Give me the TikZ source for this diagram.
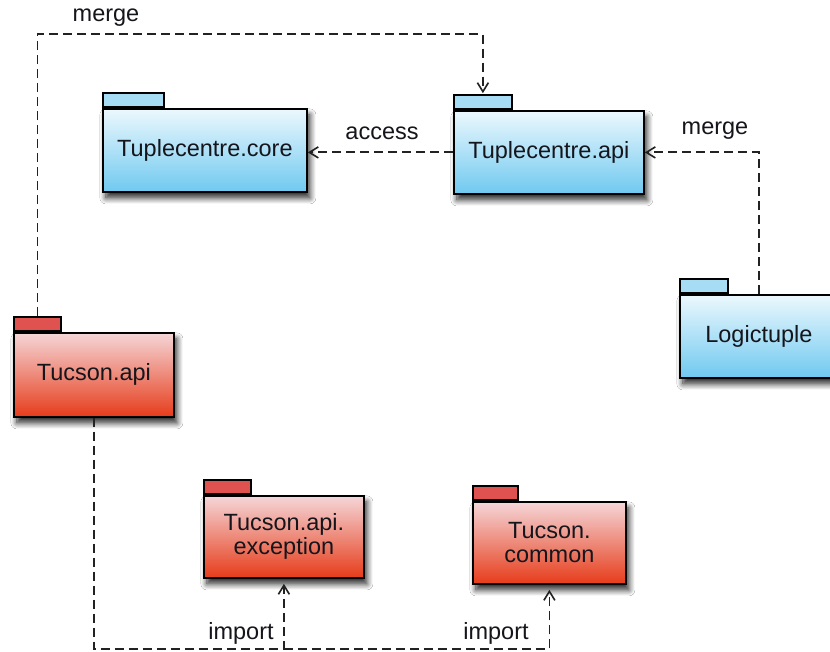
\documentclass[tikz,border=0pt]{standalone}
\usepackage{fontspec}
\setmainfont{Liberation Sans}
\usetikzlibrary{arrows.meta,shadows.blur,calc}

\definecolor{bluetop}{HTML}{ECF8FD}
\definecolor{bluebot}{HTML}{6FC9F0}
\definecolor{bluetab}{HTML}{A6DDF5}
\definecolor{redtop}{HTML}{F5D6D8}
\definecolor{redbot}{HTML}{E63C1A}
\definecolor{redtab}{HTML}{E0524F}
\definecolor{linegray}{HTML}{222222}
\definecolor{ink}{HTML}{15151C}

\tikzset{
  pkgfont/.style={font=\fontsize{23.5}{26}\selectfont},
  pkgshadow/.style={blur shadow={shadow xshift=3pt, shadow yshift=-6pt,
      shadow blur radius=6pt, shadow blur steps=8, shadow opacity=85}},
  pkgbody/.style={rectangle, draw=black, line width=1.8pt, inner sep=0pt,
      align=center, text=ink, pkgfont, anchor=north west, pkgshadow},
  bluebody/.style={pkgbody, top color=bluetop, bottom color=bluebot},
  redbody/.style={pkgbody, top color=redtop, bottom color=redbot},
  pkgtab/.style={rectangle, draw=black, line width=1.8pt, inner sep=0pt,
      anchor=south west, minimum height=14pt},
  bluetabbox/.style={pkgtab, fill=bluetab},
  redtabbox/.style={pkgtab, fill=redtab},
  dep/.style={draw=linegray, line width=1.8pt, dash pattern=on 9pt off 5pt,
      -{Straight Barb[length=9pt,width=11pt,line width=1.6pt]}},
  deplabel/.style={text=ink, pkgfont, inner sep=0pt},
}

\begin{document}
\begin{tikzpicture}[x=1pt,y=-1pt]
  \useasboundingbox (0,0) rectangle (830,652);
  \fill[white] (0,0) rectangle (830,652);

  % blue packages
  \node[bluetabbox, minimum width=61pt] (coretab) at (102,108) {};
  \node[bluebody, minimum width=204pt, minimum height=83pt] (core) at (102,108) {Tuplecentre.core};

  \node[bluetabbox, minimum width=58pt] (tapitab) at (453,110) {};
  \node[bluebody, minimum width=190pt, minimum height=83pt] (tapi) at (453,110) {Tuplecentre.api};

  \node[bluetabbox, minimum width=48pt] (logictab) at (679,294) {};
  \node[bluebody, minimum width=158pt, minimum height=83pt] (logic) at (679,294) {Logictuple};

  % red packages
  \node[redtabbox, minimum width=47pt] (tucapitab) at (13,332) {};
  \node[redbody, minimum width=160pt, minimum height=84pt] (tucapi) at (13,332) {Tucson.api};

  \node[redtabbox, minimum width=47pt] (exctab) at (203,495) {};
  \node[redbody, minimum width=160pt, minimum height=82pt] (exc) at (203,495) {Tucson.api.\\[-2pt]exception};

  \node[redtabbox, minimum width=45pt] (commontab) at (472,501) {};
  \node[redbody, minimum width=153pt, minimum height=82pt] (common) at (472,501) {Tucson.\\[-2pt]common};

  % dependencies
  \coordinate (mtop) at ($(tapitab.north)+(0,-60)$);
  \draw[dep, shorten >=1pt] (tucapitab.north) |- (mtop) -- (tapitab.north);
  \node[deplabel] (mergeA) at (106,18) {merge};

  \draw[dep] (tapi.west) -- (core.east |- tapi.west);
  \node[deplabel] (accessL) at (382,133) {access};

  \draw[dep] (logic.north) |- (tapi.east);
  \node[deplabel] (mergeB) at (715,131) {merge};

  \coordinate (bot) at ($(tucapi.south)+(0,231)$);
  \draw[dep, shorten >=5pt] (tucapi.south) -- (bot) -| (exc.south);
  \coordinate (bot2) at (exc.south |- bot);
  \draw[dep, shorten >=5pt] (bot2) -| (common.south);
  \node[deplabel] (importA) at (241,633) {import};
  \node[deplabel] (importB) at (496,633) {import};
\end{tikzpicture}
\end{document}
